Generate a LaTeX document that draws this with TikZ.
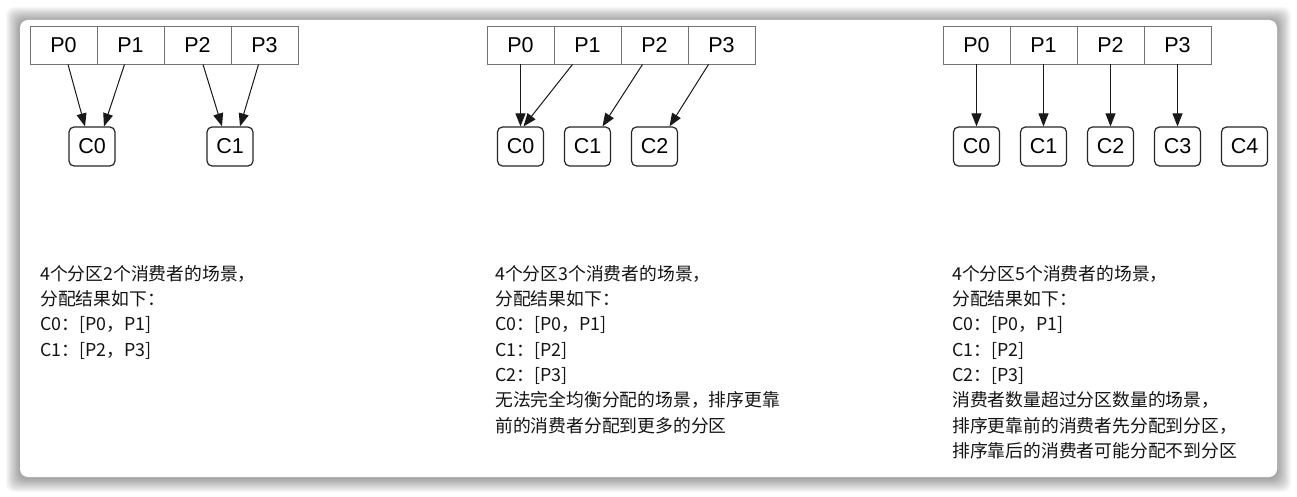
\documentclass[tikz,border=0pt]{standalone}
\usepackage{fontspec}
\setmainfont{Liberation Sans}
\newfontfamily\cjk{Noto Sans CJK SC}
\usetikzlibrary{arrows.meta, positioning}

\begin{document}
\begin{tikzpicture}[x=1pt, y=-1pt,
    part/.style={draw=black!55, fill=white, line width=0.9pt, minimum width=67pt, minimum height=38pt, inner sep=0pt, font=\fontsize{21.5}{24}\selectfont},
    cons/.style={draw=black!85, fill=white, line width=1.2pt, rounded corners=5pt, minimum width=46pt, minimum height=39pt, inner sep=0pt, font=\fontsize{21.5}{24}\selectfont},
    assign/.style={-{Triangle[length=13pt, width=10pt]}, line width=1pt, black!90},
    note/.style={anchor=north west, align=left, inner sep=0pt, text=black!92, font=\cjk\fontsize{17.8}{25.3}\selectfont}]
    \useasboundingbox (0,0) rectangle (1297,497);

    % Card with soft shadow
    \fill[white] (0,0) rectangle (1297,497);
    \foreach \k in {1,...,14}
        \fill[black, opacity=0.028, rounded corners=8pt] (20-\k, 21-\k) rectangle (1277+\k, 478+\k);
    \fill[white, rounded corners=8pt] (20,20) rectangle (1277,477);

    % 4 partitions, 2 consumers
    \begin{scope}[shift={(30,0)}]
        \foreach \i in {0,...,3}
            \node[part] (a-p\i) at (33.5+67*\i, 45) {P\i};
        \node[cons] (a-c0) at (62,146.5) {C0};
        \node[cons] (a-c1) at (200,146.5) {C1};

        \draw[assign] ([xshift=4.5]a-p0.south) -- ([xshift=-7]a-c0.north);
        \draw[assign] ([xshift=-6]a-p1.south) -- ([xshift=12]a-c0.north);
        \draw[assign] ([xshift=5.5]a-p2.south) -- ([xshift=-8]a-c1.north);
        \draw[assign] ([xshift=-6]a-p3.south) -- ([xshift=10]a-c1.north);

        \node[note] (a-note) at (10,265) {4个分区2个消费者的场景，\\分配结果如下：\\C0：[P0，P1]\\C1：[P2，P3]};
    \end{scope}

    % 4 partitions, 3 consumers
    \begin{scope}[shift={(487,0)}]
        \foreach \i in {0,...,3}
            \node[part] (b-p\i) at (33.5+67*\i, 45) {P\i};
        \foreach \i in {0,...,2}
            \node[cons] (b-c\i) at (33.5+67*\i, 146.5) {C\i};

        \draw[assign] (b-p0.south) -- (b-c0.north);
        \draw[assign] ([xshift=-15]b-p1.south) -- ([xshift=3]b-c0.north);
        \draw[assign] ([xshift=-12]b-p2.south) -- ([xshift=15]b-c1.north);
        \draw[assign] ([xshift=-13]b-p3.south) -- ([xshift=15]b-c2.north);

        \node[note] (b-note) at (8,265) {4个分区3个消费者的场景，\\分配结果如下：\\C0：[P0，P1]\\C1：[P2]\\C2：[P3]\\无法完全均衡分配的场景，排序更靠\\前的消费者分配到更多的分区};
    \end{scope}

    % 4 partitions, 5 consumers
    \begin{scope}[shift={(943,0)}]
        \foreach \i in {0,...,3}
            \node[part] (c-p\i) at (33.5+67*\i, 45) {P\i};
        \foreach \i in {0,...,4}
            \node[cons] (c-c\i) at (33.5+67*\i, 146.5) {C\i};

        \foreach \i in {0,...,3}
            \draw[assign] (c-p\i.south) -- (c-c\i.north);

        \node[note] (c-note) at (9,265) {4个分区5个消费者的场景，\\分配结果如下：\\C0：[P0，P1]\\C1：[P2]\\C2：[P3]\\消费者数量超过分区数量的场景，\\排序更靠前的消费者先分配到分区，\\排序靠后的消费者可能分配不到分区};
    \end{scope}
\end{tikzpicture}
\end{document}
